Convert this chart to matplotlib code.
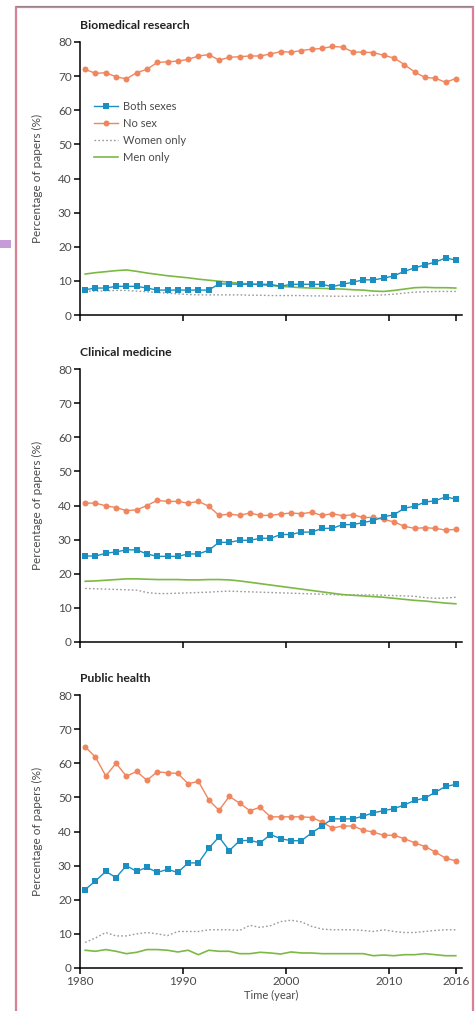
import numpy as np
import matplotlib
matplotlib.use("Agg")
import matplotlib.pyplot as plt
from matplotlib.patches import Rectangle

plt.rcParams['font.family'] = ['Lato', 'DejaVu Sans']

# years 1980-2016, plotted at mid-year
years = np.arange(1980, 2017)

# Biomedical research
bio_both = [7.4, 7.9, 7.9, 8.4, 8.4, 8.4, 7.9, 7.3, 7.3, 7.3, 7.3, 7.3, 7.3, 9.1, 9.1, 9.0, 9.0, 9.0, 9.0,
            8.4, 9.0, 9.0, 9.0, 9.0, 8.3, 9.0, 9.6, 10.3, 10.3, 10.8, 11.5, 12.8, 13.8, 14.7, 15.5, 16.7, 16.1]
bio_none = [72.0, 70.8, 71.0, 69.8, 69.2, 71.0, 72.0, 74.0, 74.2, 74.4, 74.9, 75.9, 76.3, 74.7, 75.5, 75.7,
            75.9, 75.9, 76.5, 77.2, 77.0, 77.5, 77.9, 78.1, 78.7, 78.5, 77.1, 77.0, 76.9, 76.1, 75.3, 73.4,
            71.2, 69.6, 69.4, 68.2, 69.3]
bio_women = [7.0, 7.0, 7.1, 7.2, 7.2, 7.0, 6.8, 6.6, 6.4, 6.2, 6.0, 5.9, 5.9, 5.9, 5.9, 5.9, 5.8, 5.8, 5.7,
             5.7, 5.7, 5.7, 5.6, 5.6, 5.5, 5.5, 5.5, 5.6, 5.8, 5.9, 6.1, 6.4, 6.7, 6.8, 6.9, 6.9, 6.9]
bio_men = [12.0, 12.4, 12.7, 13.0, 13.2, 12.8, 12.3, 11.9, 11.5, 11.2, 10.9, 10.5, 10.2, 9.9, 9.6, 9.3, 9.1,
           8.9, 8.6, 8.4, 8.2, 8.0, 7.9, 7.8, 7.7, 7.6, 7.4, 7.3, 7.0, 6.9, 7.2, 7.6, 8.0, 8.1, 8.0, 8.0, 7.9]

# Clinical medicine
cli_both = [25.2, 25.2, 26.0, 26.4, 27.0, 27.0, 25.8, 25.1, 25.1, 25.1, 25.8, 25.8, 26.9, 29.2, 29.2, 29.8,
            29.8, 30.4, 30.4, 31.5, 31.5, 32.2, 32.2, 33.3, 33.3, 34.4, 34.4, 35.0, 35.6, 36.7, 37.3, 39.2,
            39.8, 41.0, 41.4, 42.5, 41.9]
cli_none = [40.7, 40.7, 39.9, 39.4, 38.5, 38.7, 40.0, 41.5, 41.2, 41.2, 40.7, 41.2, 39.8, 37.1, 37.5, 37.1,
            37.8, 37.1, 37.1, 37.5, 37.8, 37.6, 38.0, 37.1, 37.6, 37.0, 37.3, 36.5, 36.5, 35.9, 35.2, 33.9,
            33.3, 33.5, 33.3, 32.8, 33.0]
cli_women = [15.7, 15.6, 15.5, 15.4, 15.3, 15.2, 14.5, 14.2, 14.2, 14.3, 14.4, 14.5, 14.6, 14.8, 14.9, 14.8,
             14.7, 14.6, 14.5, 14.4, 14.3, 14.2, 14.1, 14.0, 13.9, 13.8, 13.8, 13.8, 13.8, 13.7, 13.6, 13.5,
             13.4, 13.0, 12.8, 12.9, 13.1]
cli_men = [17.8, 17.9, 18.1, 18.3, 18.5, 18.5, 18.4, 18.3, 18.3, 18.3, 18.2, 18.2, 18.3, 18.3, 18.2, 17.9,
           17.5, 17.1, 16.7, 16.3, 15.9, 15.5, 15.1, 14.7, 14.3, 13.9, 13.7, 13.5, 13.3, 13.1, 12.8, 12.5,
           12.2, 12.0, 11.7, 11.4, 11.2]

# Public health
pub_both = [23.0, 25.5, 28.3, 26.5, 30.0, 28.3, 29.5, 28.0, 28.9, 28.0, 30.8, 30.8, 35.1, 38.4, 34.4, 37.3,
            37.4, 36.7, 39.1, 37.9, 37.3, 37.3, 39.6, 41.6, 43.7, 43.7, 43.7, 44.5, 45.5, 46.1, 46.7, 47.8,
            49.1, 49.8, 51.5, 53.2, 53.8]
pub_none = [64.8, 61.8, 56.3, 60.0, 56.2, 57.6, 55.0, 57.5, 57.2, 57.0, 54.0, 54.7, 49.3, 46.2, 50.3, 48.3,
            46.1, 47.1, 44.3, 44.3, 44.3, 44.3, 44.1, 42.8, 41.0, 41.6, 41.6, 40.4, 39.8, 38.9, 38.9, 37.9,
            36.7, 35.6, 34.0, 32.2, 31.4]
pub_women = [7.5, 8.8, 10.4, 9.4, 9.4, 10.0, 10.4, 10.0, 9.5, 10.7, 10.7, 10.7, 11.2, 11.2, 11.2, 11.0, 12.5,
             11.9, 12.4, 13.6, 14.0, 13.5, 12.2, 11.4, 11.2, 11.2, 11.2, 11.0, 10.7, 11.2, 10.7, 10.4, 10.4,
             10.7, 11.0, 11.2, 11.2]
pub_men = [5.2, 4.9, 5.4, 4.9, 4.2, 4.6, 5.4, 5.4, 5.2, 4.7, 5.2, 3.9, 5.2, 4.9, 4.9, 4.2, 4.2, 4.6, 4.4, 4.1,
           4.7, 4.4, 4.4, 4.2, 4.2, 4.2, 4.2, 4.2, 3.6, 3.8, 3.6, 3.9, 3.9, 4.2, 3.9, 3.6, 3.6]

titles = ["Biomedical research", "Clinical medicine", "Public health"]
panels = [(bio_both, bio_none, bio_women, bio_men),
          (cli_both, cli_none, cli_women, cli_men),
          (pub_both, pub_none, pub_women, pub_men)]
xtick_labels = ["1980", "1990", "2000", "2010", "2016"]

c_both = "#1b8fc1"
c_none = "#f0865e"
c_women = "#9a9a9a"
c_men = "#7cb944"
c_text = "#4a4a4a"

W, H = 477, 1011
fig = plt.figure(figsize=(W / 100, H / 100), dpi=100)

# frame around the figure + small mark on the left
fig.patches.append(Rectangle((16 / W, -0.01), 457 / W, 1.01 - 7 / H, transform=fig.transFigure,
                             fill=False, edgecolor="#d97f96", linewidth=1.6))
fig.patches.append(Rectangle((16 / W, 1 - 7 / H), 457 / W, 1.5 / H, transform=fig.transFigure,
                             facecolor="#9a8088", edgecolor="none"))
fig.patches.append(Rectangle((0, 1 - 248 / H), 11 / W, 8 / H, transform=fig.transFigure,
                             facecolor="#c79ad8", edgecolor="none"))

x = years + 0.5
bottoms = [315, 642, 968]
for i, (ax_bottom, title, (both, none, women, men)) in enumerate(zip(bottoms, titles, panels)):
    ax = fig.add_axes([80 / W, 1 - ax_bottom / H, 382 / W, 273 / H])
    ax.plot(x, women, color=c_women, linestyle=(0, (1.2, 1.6)), linewidth=1.0, label="Women only")
    ax.plot(x, men, color=c_men, linewidth=1.2, label="Men only")
    ax.plot(x, none, color=c_none, linewidth=1.0, marker="o", markersize=4.3,
            markeredgewidth=0, label="No sex")
    ax.plot(x, both, color=c_both, linewidth=1.0, marker="s", markersize=5.0,
            markeredgewidth=0, label="Both sexes")

    ax.set_xlim(1980, 2017.1)
    ax.set_ylim(0, 80)
    ax.set_yticks(range(0, 81, 10))
    ax.set_xticks([1980, 1990, 2000, 2010, 2016.5])
    ax.spines["top"].set_visible(False)
    ax.spines["right"].set_visible(False)
    for s in ("left", "bottom"):
        ax.spines[s].set_linewidth(1.1)
    ax.tick_params(direction="out", length=4, width=1.1, labelsize=8.5,
                   labelcolor=c_text, pad=2)
    if i == 2:
        ax.set_xticklabels(xtick_labels)
        ax.set_xlabel("Time (year)", fontsize=8, color=c_text, labelpad=2)
    else:
        ax.set_xticklabels([])
    ax.set_ylabel("Percentage of papers (%)", fontsize=8.5, color=c_text, labelpad=11)
    ax.text(0.0, 1.062, title, transform=ax.transAxes, fontsize=8.8, fontweight="bold",
            color="#222222", ha="left", va="center")

    if i == 0:
        h, l = ax.get_legend_handles_labels()
        order = [3, 2, 0, 1]
        ax.legend([h[k] for k in order], [l[k] for k in order], loc="upper left",
                  bbox_to_anchor=(0.025, 0.80), frameon=False, fontsize=8,
                  handlelength=2.2, handletextpad=0.4, labelspacing=0.55,
                  labelcolor=c_text, borderaxespad=0)

fig.savefig("out.png", dpi=100)
